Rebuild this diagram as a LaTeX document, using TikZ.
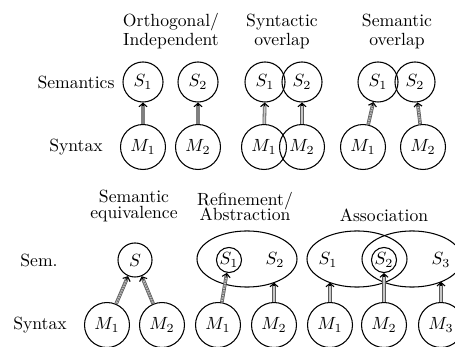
\documentclass[tikz,border=0pt]{standalone}
\usetikzlibrary{arrows.meta,calc,shapes.geometric}
\tikzset{
  scirc/.style={circle, draw, line width=0.6pt, inner sep=0pt, minimum size=22.7pt},
  mcirc/.style={circle, draw, line width=0.6pt, inner sep=0pt, minimum size=25.5pt},
  onecirc/.style={circle, draw, line width=0.6pt, inner sep=0pt, minimum size=19.3pt},
  tinycirc/.style={circle, draw, line width=0.6pt, inner sep=0pt, minimum size=14.2pt},
  bigell/.style={ellipse, draw, line width=0.6pt, inner sep=0pt, minimum width=56.7pt, minimum height=31.8pt},
  lbl/.style={inner sep=0pt},
  ttl/.style={align=center, inner sep=0pt},
  dbl/.style={draw=black!65, line width=0.45pt, double=black!22, double distance=1.1pt},
  plainshaft/.style={draw=black!50, line width=1.8pt},
  hatch/.style={draw=black!55, line width=1.1pt, dash pattern=on 0.7pt off 0.7pt},
  tipst/.style={-{Straight Barb[length=2pt,width=4.6pt]}, line width=0.6pt, draw=black},
}
\newcommand{\linkar}[3][dbl]{%
  \path (#2) -- coordinate[pos=1] (lkE) (#3);
  \draw[#1] (#2) -- ($(lkE)!0.9pt!(#2)$);
  \draw[tipst] ($(lkE)!2.2pt!(#2)$) -- (lkE);
}
\newcommand{\hatchar}[2]{%
  \path (#1) -- coordinate[pos=1] (lkE) (#2);
  \draw[dbl] (#1) -- ($(lkE)!0.9pt!(#1)$);
  \draw[hatch] (#1) -- ($(lkE)!0.9pt!(#1)$);
  \draw[tipst] ($(lkE)!2.2pt!(#1)$) -- (lkE);
}
\begin{document}
\begin{tikzpicture}[x=0.567pt,y=-0.567pt]
\useasboundingbox (0,0) rectangle (455,347);
\clip (0,0) rectangle (455,347);

% ---- row labels
\node[lbl] (lsem) at (76,82) {Semantics};
\node[lbl] (lsyn) at (76,147) {Syntax};
\node[lbl] (lsem2) at (39,260) {Sem.};
\node[lbl] (lsyn2) at (40,325) {Syntax};

% ---- titles
\node[ttl] (t1) at (171,31.5) {Orthogonal/\\[-1.2pt]Independent};
\node[ttl] (t2) at (282,31.5) {Syntactic\\[-1.2pt]overlap};
\node[ttl] (t3) at (397,31.5) {Semantic\\[-1.2pt]overlap};
\node[ttl] (t4) at (134,206) {Semantic\\[-3pt]equivalence};
\node[ttl] (t5) at (245,206.5) {Refinement/\\[-3pt]Abstraction};
\node[lbl] (t6) at (384,215) {Association};

% ---- orthogonal
\node[scirc] (oS1) at (143,82) {$S_1$};
\node[scirc] (oS2) at (198,82) {$S_2$};
\node[mcirc] (oM1) at (143,147) {$M_1$};
\node[mcirc] (oM2) at (198,147) {$M_2$};
\linkar[plainshaft]{oM1}{oS1}
\linkar[plainshaft]{oM2}{oS2}

% ---- syntactic overlap
\node[scirc] (yS1) at (265,82) {$S_1$};
\node[scirc] (yS2) at (302,82) {$S_2$};
\node[mcirc] (yM1) at (264,147) {$M_1$};
\node[mcirc] (yM2) at (302,147) {$M_2$};
\linkar{yM1}{yS1}
\linkar{yM2}{yS2}

% ---- semantic overlap
\node[scirc] (sS1) at (378,82) {$S_1$};
\node[scirc] (sS2) at (415,82) {$S_2$};
\node[mcirc] (sM1) at (363,147) {$M_1$};
\node[mcirc] (sM2) at (423,147) {$M_2$};
\hatchar{sM1}{sS1}
\hatchar{sM2}{sS2}

% ---- semantic equivalence
\node[onecirc] (eS) at (135,260) {$S$};
\node[mcirc] (eM1) at (107,325) {$M_1$};
\node[mcirc] (eM2) at (162,325) {$M_2$};
\hatchar{eM1}{eS}
\hatchar{eM2}{eS}

% ---- refinement / abstraction
\node[bigell] (rE) at (247,259) {};
\node[tinycirc] (rS1) at (229,260) {$S_1$};
\node[lbl] (rS2) at (275,260) {$S_2$};
\node[mcirc] (rM1) at (218,325) {$M_1$};
\node[mcirc] (rM2) at (274,325) {$M_2$};
\coordinate (rEnd) at (274,282.6);
\hatchar{rM1}{rS1}
\linkar{rM2}{rEnd}

% ---- association
\node[bigell] (aE1) at (357,259) {};
\node[bigell] (aE2) at (412,259) {};
\node[lbl] (aS1) at (328,260) {$S_1$};
\node[tinycirc] (aS2) at (384,260) {$S_2$};
\node[lbl] (aS3) at (441,260) {$S_3$};
\node[mcirc] (aM1) at (330,325) {$M_1$};
\node[mcirc] (aM2) at (384,325) {$M_2$};
\node[mcirc] (aM3) at (441,325) {$M_3$};
\coordinate (aEnd1) at (330,282.6);
\coordinate (aEnd3) at (441,281.8);
\linkar{aM1}{aEnd1}
\linkar{aM2}{aS2}
\linkar{aM3}{aEnd3}
\end{tikzpicture}
\end{document}
